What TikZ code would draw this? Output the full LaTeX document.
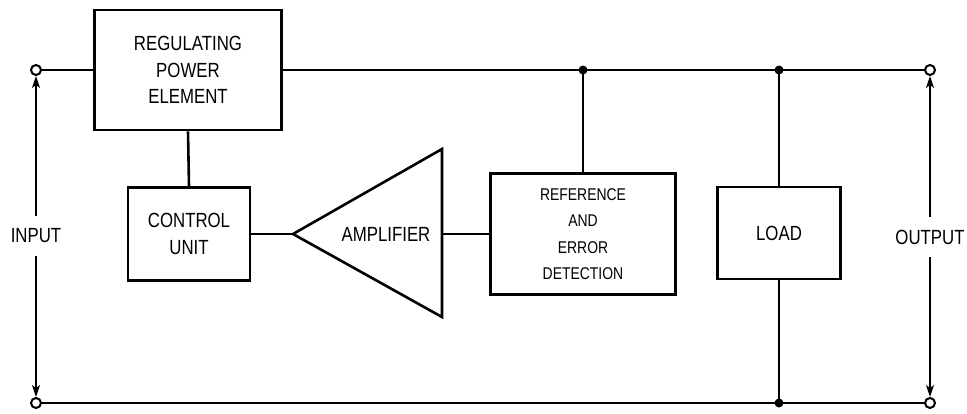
\documentclass[tikz,border=0pt]{standalone}
\usepackage{fontspec}
\setmainfont{Liberation Sans}[FakeStretch=0.82]
\usetikzlibrary{arrows.meta}

\tikzset{
  wire/.style={line width=2.6pt},
  block/.style={draw,line width=2.6pt,align=center,inner sep=0pt,font=\fontsize{20.5}{26.5}\selectfont},
  term/.style={draw,circle,line width=2pt,fill=white,inner sep=0pt,minimum size=10pt},
  junc/.style={circle,fill=black,inner sep=0pt,minimum size=9pt},
  meas/.style={line width=1.4pt,-{Stealth[length=12pt,width=8pt,inset=3pt]}},
  lbl/.style={font=\fontsize{20.5}{24}\selectfont,inner sep=0pt,minimum height=40pt},
}

\begin{document}
\begin{tikzpicture}[x=1pt,y=-1pt,line join=miter]
\useasboundingbox (0,0) rectangle (967,413);

% terminals and junctions
\node[term] (inT) at (36,70) {};
\node[term] (inB) at (36,403) {};
\node[term] (outT) at (930,70) {};
\node[term] (outB) at (930,403) {};
\node[junc] (j1) at (583,70) {};
\node[junc] (j2) at (779,70) {};
\node[junc] (j3) at (779,403) {};

% blocks
\node[block,minimum width=187pt,minimum height=120pt] (reg) at (188,70) {REGULATING\\POWER\\ELEMENT};
\node[block,minimum width=122pt,minimum height=93pt] (ctrl) at (189,234) {CONTROL\\UNIT};
\node[block,minimum width=185pt,minimum height=121pt,font=\fontsize{17}{26.5}\selectfont] (ref) at (583,234) {REFERENCE\\AND\\ERROR\\DETECTION};
\node[block,minimum width=123pt,minimum height=92pt] (load) at (779,233) {LOAD};

% amplifier
\draw[wire] (442,149) -- (293,234) coordinate (amptip) -- (442,317) -- cycle;
\coordinate (ampR) at (442,234);
\node[font=\fontsize{20.5}{24}\selectfont] (amp) at (386,234) {AMPLIFIER};

% wiring
\draw[wire] (inT) -- (reg.west);
\draw[wire] (reg.east) -- (j1.center) -- (j2.center) -- (outT);
\draw[wire] (inB) -- (j3.center) -- (outB);
\draw[wire] (reg.south) -- (ctrl.north);
\draw[wire] (ctrl.east) -- (amptip);
\draw[wire] (ampR) -- (ref.west);
\draw[wire] (j1.center) -- (ref.north);
\draw[wire] (j2.center) -- (load.north);
\draw[wire] (load.south) -- (j3.center);

% input / output
\node[lbl] (inlbl) at (36,236) {INPUT};
\node[lbl] (outlbl) at (930,237) {OUTPUT};
\draw[meas] (inlbl.north) -- (inT.south);
\draw[meas] (inlbl.south) -- (inB.north);
\draw[meas] (outlbl.north) -- (outT.south);
\draw[meas] (outlbl.south) -- (outB.north);
\end{tikzpicture}
\end{document}
